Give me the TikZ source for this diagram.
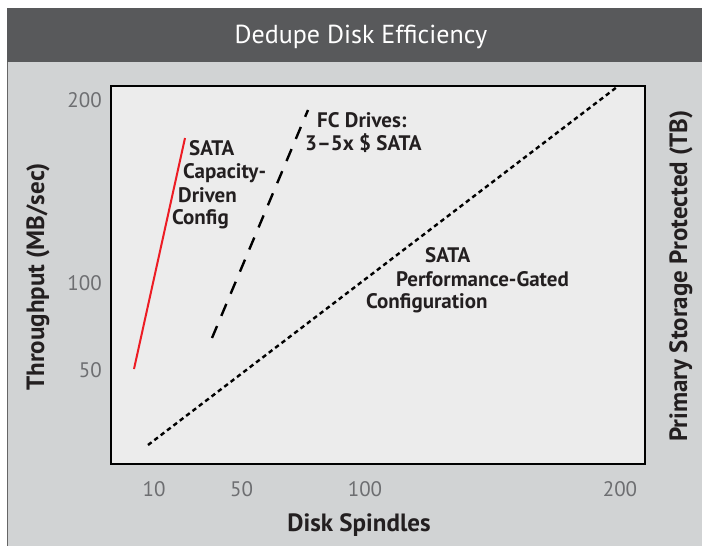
\documentclass[tikz,border=0pt]{standalone}
\usepackage{fontspec}
\setmainfont{PT Sans}
\definecolor{hdr}{HTML}{58595B}
\definecolor{panel}{HTML}{D1D3D4}
\definecolor{plotbg}{HTML}{ECECEC}
\definecolor{tickc}{HTML}{6D6E71}
\definecolor{ink}{HTML}{231F20}
\definecolor{redl}{HTML}{ED1C24}
\begin{document}
\begin{tikzpicture}[x=1pt,y=-1pt,
  ticklab/.style={font=\fontsize{21}{21}\selectfont, text=tickc, inner sep=0pt},
  axlab/.style={font=\fontsize{25}{25}\selectfont\bfseries, text=ink, inner sep=0pt},
  curvelab/.style={font=\fontsize{21}{21}\selectfont\bfseries, text=ink, inner sep=0pt, anchor=base west},
  redline/.style={draw=redl, line width=2pt},
  fcline/.style={draw=black, line width=2.4pt, dash pattern=on 13pt off 11pt},
  perfline/.style={draw=black, line width=2.4pt, dash pattern=on 4.5pt off 3.5pt}]
\useasboundingbox (0,0) rectangle (702,546);
\fill[white] (0,0) rectangle (702,546);
% panel and header
\fill[panel] (7,62) rectangle (702,546);
\draw[gray!80!black, line width=1pt] (7.5,62) -- (7.5,546);
\fill[hdr] (7,8) rectangle (702,62);
\node[font=\fontsize{26}{26}\selectfont, text=white, inner sep=0pt, anchor=base] (title) at (361,43) {Dedupe Disk Efficiency};
% plot box
\draw[fill=plotbg, draw=black, line width=1.6pt] (111,86) rectangle (645,464);
% y ticks
\node[ticklab, anchor=base east] (y200) at (102,107) {200};
\node[ticklab, anchor=base east] (y100) at (102,290) {100};
\node[ticklab, anchor=base east] (y50) at (102,377) {50};
% x ticks
\node[ticklab, anchor=base] (x10) at (154,496) {10};
\node[ticklab, anchor=base] (x50) at (241.5,496) {50};
\node[ticklab, anchor=base] (x100) at (365,496) {100};
\node[ticklab, anchor=base] (x200) at (620,496) {200};
% axis titles
\node[axlab, anchor=base] (xtitle) at (359,531) {Disk Spindles};
\node[axlab, rotate=90] (ytitle) at (38,277) {Throughput (MB/sec)};
\node[axlab, rotate=90] (y2title) at (681,276) {Primary Storage Protected (TB)};
% curves
\coordinate (r1) at (134,369);
\coordinate (r2) at (185,138);
\coordinate (f1) at (212,338);
\coordinate (f2) at (308,110);
\coordinate (p1) at (148,445);
\coordinate (p2) at (617,87);
\draw[redline] (r1) -- (r2);
\draw[fcline] (f1) -- (f2);
\draw[perfline] (p1) -- (p2);
% labels
\node[curvelab] (c1) at (189,155) {SATA};
\node[curvelab] (c2) at (183,178) {Capacity-};
\node[curvelab] (c3) at (178,202) {Driven};
\node[curvelab] (c4) at (172,224) {Config};
\node[curvelab] (fc1) at (317,127) {FC Drives:};
\node[curvelab] (fc2) at (305,150) {3–5x \$ SATA};
\node[curvelab] (p1l) at (425,262) {SATA};
\node[curvelab] (p2l) at (396,286) {Performance-Gated};
\node[curvelab] (p3l) at (366,308) {Configuration};
\end{tikzpicture}
\end{document}
